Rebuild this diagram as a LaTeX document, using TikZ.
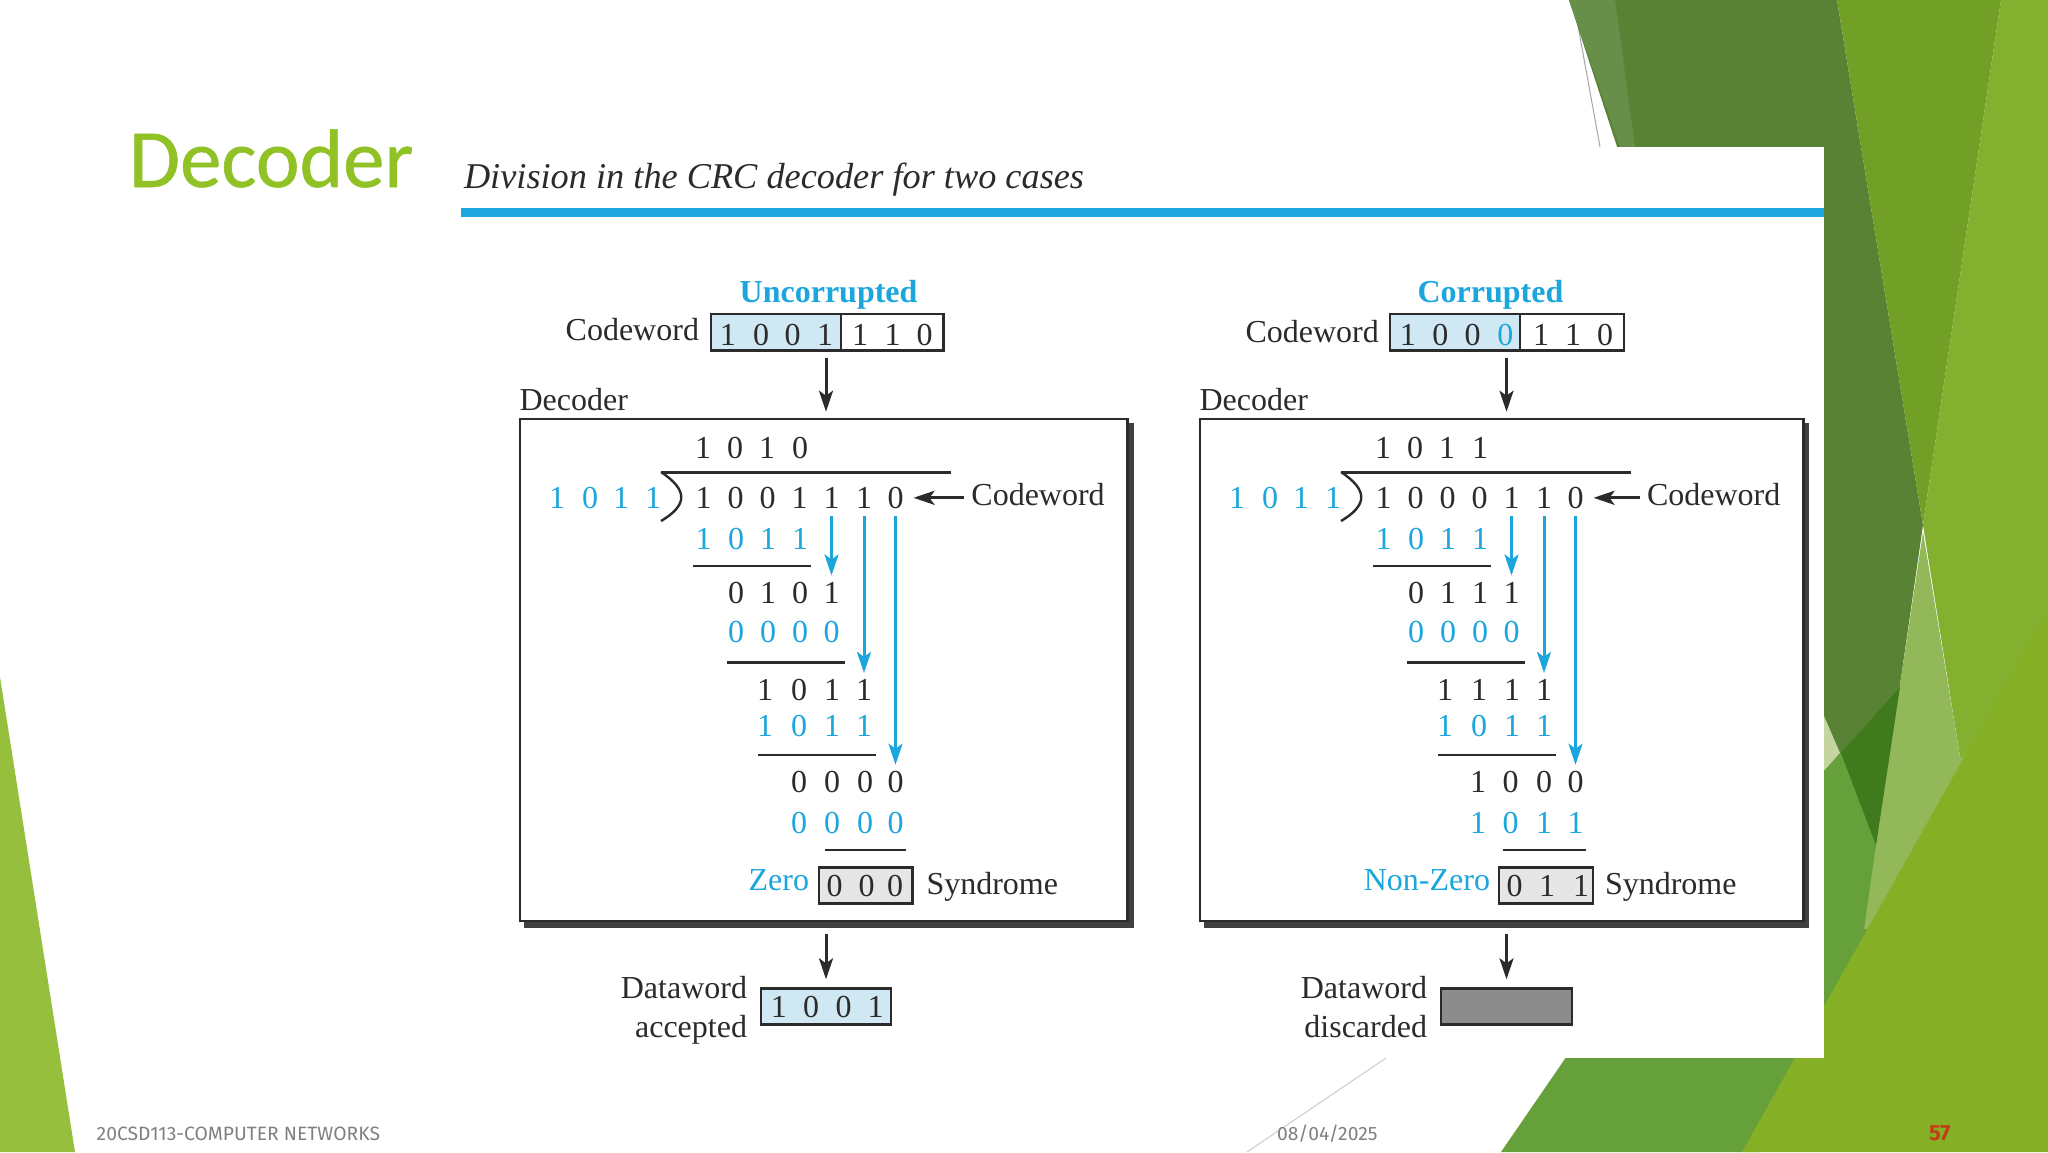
\documentclass[tikz,border=0pt]{standalone}
\usepackage{fontspec}
\setmainfont{Liberation Serif}
\newfontfamily\slidefont{Fira Sans}
\newfontfamily\headfont[FakeBold=0.6]{Carlito}
\usetikzlibrary{arrows.meta}
\definecolor{cblue}{HTML}{1BA6DE}
\definecolor{tint}{HTML}{CFE8F4}
\definecolor{ink}{HTML}{2B2B2B}
\definecolor{sgray}{HTML}{E6E6E6}
\definecolor{dgray}{HTML}{8C8C8C}
\definecolor{shadowgray}{HTML}{3F3F3F}
\definecolor{slidegreen}{HTML}{90C226}
\definecolor{footgray}{HTML}{808080}
\definecolor{bgA}{RGB}{149,191,60}
\definecolor{bgB}{RGB}{90,130,53}
\definecolor{bgC}{RGB}{103,143,74}
\definecolor{bgD}{RGB}{114,160,38}
\definecolor{bgE}{RGB}{132,176,48}
\definecolor{bgF}{RGB}{147,184,90}
\definecolor{bgG}{RGB}{197,213,160}
\definecolor{bgH}{RGB}{102,160,58}
\definecolor{bgI}{RGB}{63,122,28}
\definecolor{bgJ}{RGB}{133,176,37}
\definecolor{pagered}{RGB}{192,60,26}
\tikzset{
  dig/.style={anchor=base,inner sep=0pt,outer sep=0pt,font=\fontsize{32}{32}\selectfont,text=ink},
  bdig/.style={dig,text=cblue},
  lab/.style={inner sep=0pt,outer sep=0pt,font=\fontsize{32}{32}\selectfont,text=ink},
  blab/.style={lab,text=cblue},
  frame/.style={draw=ink,line width=2.8pt,inner sep=0pt,outer sep=0pt},
  rule/.style={draw=ink,line width=2.4pt},
  arr/.style={draw=ink,line width=3pt,-{Stealth[length=21pt,width=14pt,inset=5pt]}},
  barr/.style={draw=cblue,line width=3pt,-{Stealth[length=21pt,width=14pt,inset=5pt]}},
  foot/.style={inner sep=0pt,outer sep=0pt,anchor=base west,font=\slidefont\fontsize{19.3}{19.3}\selectfont,text=footgray}
}
\newcommand{\digrow}[4]{\foreach \xx/\dd [count=\ii] in {#4} {\node[#2] (#1\ii) at (\xx,#3) {\dd};}}
\begin{document}
\begin{tikzpicture}[x=1pt,y=-1pt]
\useasboundingbox (0,0) rectangle (2048,1152);
\fill[white] (0,0) rectangle (2048,1152);
% slide background
\fill[bgA] (0,677) -- (75,1152) -- (0,1152) -- cycle;
\draw[gray!70,line width=1pt] (1578,26) -- (1600,147);
\draw[gray!40,line width=1pt] (1386,1058) -- (1247,1152);
\fill[bgB] (1569,0) -- (1837,0) -- (1923,525) -- (1876,852) -- (1824,900) -- (1700,400) -- cycle;
\fill[bgC] (1569,0) -- (1615,0) -- (1635,147) -- (1620,147) -- cycle;
\fill[bgD] (1837,0) -- (2001,0) -- (1923,525) -- cycle;
\fill[bgE] (2001,0) -- (2048,0) -- (2048,610) -- (1975,757) -- (1960,757) -- (1923,525) -- cycle;
\fill[bgF] (1923,532) -- (1960,757) -- (1985,757) -- (1885,930) -- (1863,930) -- cycle;
\fill[bgG] (1824,716) -- (1840,753) -- (1824,771) -- cycle;
\fill[bgH] (1501,1152) -- (1571,1050) -- (1824,771) -- (1841,753) -- (1876,845) -- (1864,929) -- (1885,930) -- (1760,1152) -- cycle;
\fill[bgI] (1841,753) -- (1900,687) -- (1876,845) -- cycle;
\fill[bgJ] (2048,608) -- (2048,1152) -- (1742,1152) -- cycle;
% pasted figure
\fill[white] (461,147) rectangle (1824,1058);
\fill[cblue] (461,208) rectangle (1824,216.5);
\node[inner sep=0pt,outer sep=0pt,anchor=base west,font=\headfont\fontsize{83}{83}\selectfont,text=slidegreen] (title) at (129,187) {Decoder};
\node[inner sep=0pt,outer sep=0pt,anchor=base west,font=\itshape\fontsize{36.3}{36.3}\selectfont,text=ink] (cap) at (464,188.7) {Division in the CRC decoder for two cases};
\node[foot] (f1) at (96.7,1140) {20CSD113-COMPUTER NETWORKS};
\node[foot] (f2) at (1277,1140) {08/04/2025};
\node[foot,text=pagered,font=\slidefont\bfseries\fontsize{22}{22}\selectfont] (f3) at (1929,1140) {57};
% LEFT
\node[blab,anchor=base,font=\bfseries\fontsize{32}{32}\selectfont] (hU) at (828.6,302.3) {Uncorrupted};
\node[lab,anchor=base east] (cwlU) at (699,340) {Codeword};
\node[frame,fill=tint,minimum width=130pt,minimum height=36.3pt] (cwUa) at (776,332.15) {};
\node[frame,fill=white,minimum width=102.7pt,minimum height=36.3pt] (cwUb) at (892.35,332.15) {};
\digrow{cU}{dig}{345}{727.8/1,761/0,792.7/0,825/1,860/1,892.6/1,924.5/0}
\node[lab,anchor=base west] (decnU) at (519.6,410) {Decoder};
\fill[shadowgray] (524,423) rectangle (1134,927.7);
\node[frame,fill=white,minimum width=607.8pt,minimum height=502pt] (decU) at (823.9,670) {};
\digrow{qU}{dig}{458.3}{703/1,735/0,767/1,800/0}
\draw[rule] (661,472.3) -- (951,472.3);
\draw[ink,line width=2.4pt] (661,472) .. controls (688,490) and (688,505) .. (661,521);
\digrow{dvU}{bdig}{508.3}{557/1,590/0,621/1,653/1}
\digrow{dU}{dig}{508.3}{703.5/1,735.5/0,767.5/0,799.5/1,831.5/1,864/1,895.5/0}
\node[lab,anchor=base west] (cl2U) at (971.4,505) {Codeword};
\digrow{a1U}{bdig}{549.3}{703.5/1,736/0,768/1,800/1}
\draw[rule] (692.6,565.7) -- (811,565.7);
\digrow{a2U}{dig}{603.3}{736/0,768/1,800/0,831.5/1}
\digrow{b2U}{bdig}{642.7}{736/0,768/0,800/0,831.5/0}
\draw[rule] (726.5,662.3) -- (845,662.3);
\digrow{a3U}{dig}{700.7}{765/1,799/0,832/1,864/1}
\digrow{b3U}{bdig}{736.7}{765/1,799/0,832/1,864/1}
\draw[rule] (758,754.7) -- (876.3,754.7);
\digrow{a4U}{dig}{792.7}{799/0,832/0,865/0,895.5/0}
\digrow{b4U}{bdig}{833.3}{799/0,832/0,865/0,895.5/0}
\draw[rule] (824.5,849.7) -- (906,849.7);
\node[blab,anchor=base east] (zU) at (809,890) {Zero};
\node[frame,fill=sgray,minimum width=93.7pt,minimum height=36pt] (sU) at (865.85,885.3) {};
\digrow{sdU}{dig}{896}{834.7/0,866.5/0,895/0}
\node[lab,anchor=base west] (snU) at (926.5,894) {Syndrome};
\node[frame,fill=tint,minimum width=130pt,minimum height=36pt] (dwU) at (826,1006.3) {};
\digrow{dwdU}{dig}{1017.3}{778.8/1,811/0,843.7/0,875.5/1}
\node[lab,anchor=base east] (dw1U) at (747,998.3) {Dataword};
\node[lab,anchor=base east] (dw2U) at (747,1037.7) {accepted};
\draw[arr,shorten <=7.4pt,shorten >=7.3pt] (dwU.north |- cwUa.south) -- (dwU.north |- decU.north);
\draw[arr,shorten <=13pt,shorten >=9pt] (dwU.north |- decU.south) -- (dwU.north);
\draw[arr,shorten <=7pt,shorten >=10pt] (cl2U.west |- dU7.east) -- (dU7.east);
\draw[barr,shorten <=7.5pt,shorten >=6.7pt] (dU5.south) -- (a2U4.north);
\draw[barr,shorten <=7.5pt,shorten >=6.7pt] (dU6.south) -- (a3U4.north);
\draw[barr,shorten <=7.5pt,shorten >=6.7pt] (dU7.south) -- (a4U4.north);
% RIGHT
\node[blab,anchor=base,font=\bfseries\fontsize{32}{32}\selectfont] (hC) at (1490.5,302.3) {Corrupted};
\node[lab,anchor=base east] (cwlC) at (1378.8,342.3) {Codeword};
\node[frame,fill=tint,minimum width=130pt,minimum height=36.3pt] (cwCa) at (1455,332.15) {};
\node[frame,fill=white,minimum width=104pt,minimum height=36.3pt] (cwCb) at (1572,332.15) {};
\digrow{cC}{dig}{345}{1407.8/1,1440.4/0,1472.7/0}
\node[bdig] (cC4) at (1505.3,345) {0};
\digrow{cCr}{dig}{345}{1541/1,1573/1,1605/0}
\node[lab,anchor=base west] (decnC) at (1199.6,410) {Decoder};
\fill[shadowgray] (1204,423) rectangle (1809.4,927.7);
\node[frame,fill=white,minimum width=603.7pt,minimum height=502pt] (decC) at (1501.85,670) {};
\digrow{qC}{dig}{458.3}{1383/1,1415/0,1447/1,1480/1}
\draw[rule] (1341,472.3) -- (1631,472.3);
\draw[ink,line width=2.4pt] (1341,472) .. controls (1368,490) and (1368,505) .. (1341,521);
\digrow{dvC}{bdig}{508.3}{1237/1,1270/0,1301/1,1333/1}
\digrow{dC}{dig}{508.3}{1383.5/1,1415.5/0,1447.5/0,1479.5/0,1511.5/1,1544/1,1575.5/0}
\node[lab,anchor=base west] (cl2C) at (1647,505) {Codeword};
\digrow{a1C}{bdig}{549.3}{1383.5/1,1416/0,1448/1,1480/1}
\draw[rule] (1372.6,565.7) -- (1491,565.7);
\digrow{a2C}{dig}{603.3}{1416/0,1448/1,1480/1,1511.5/1}
\digrow{b2C}{bdig}{642.7}{1416/0,1448/0,1480/0,1511.5/0}
\draw[rule] (1406.5,662.3) -- (1525,662.3);
\digrow{a3C}{dig}{700.7}{1445/1,1479/1,1512/1,1544/1}
\digrow{b3C}{bdig}{736.7}{1445/1,1479/0,1512/1,1544/1}
\draw[rule] (1438,754.7) -- (1556.3,754.7);
\digrow{a4C}{dig}{792.7}{1478/1,1510.6/0,1544/0,1575.5/0}
\digrow{b4C}{bdig}{833.3}{1478/1,1510.6/0,1544/1,1575.5/1}
\draw[rule] (1503,849.7) -- (1586,849.7);
\node[blab,anchor=base east] (zC) at (1490,890) {Non-Zero};
\node[frame,fill=sgray,minimum width=94pt,minimum height=36pt] (sC) at (1546,885.3) {};
\digrow{sdC}{dig}{896}{1514.7/0,1547/1,1581/1}
\node[lab,anchor=base west] (snC) at (1605,894) {Syndrome};
\node[frame,fill=dgray,minimum width=131pt,minimum height=36pt] (dwC) at (1506.5,1006.3) {};
\node[lab,anchor=base east] (dw1C) at (1427,998.3) {Dataword};
\node[lab,anchor=base east] (dw2C) at (1427,1037.7) {discarded};
\draw[arr,shorten <=7.4pt,shorten >=7.3pt] (dwC.north |- cwCa.south) -- (dwC.north |- decC.north);
\draw[arr,shorten <=13pt,shorten >=9pt] (dwC.north |- decC.south) -- (dwC.north);
\draw[arr,shorten <=7pt,shorten >=10pt] (cl2C.west |- dC7.east) -- (dC7.east);
\draw[barr,shorten <=7.5pt,shorten >=6.7pt] (dC5.south) -- (a2C4.north);
\draw[barr,shorten <=7.5pt,shorten >=6.7pt] (dC6.south) -- (a3C4.north);
\draw[barr,shorten <=7.5pt,shorten >=6.7pt] (dC7.south) -- (a4C4.north);
\end{tikzpicture}
\end{document}
